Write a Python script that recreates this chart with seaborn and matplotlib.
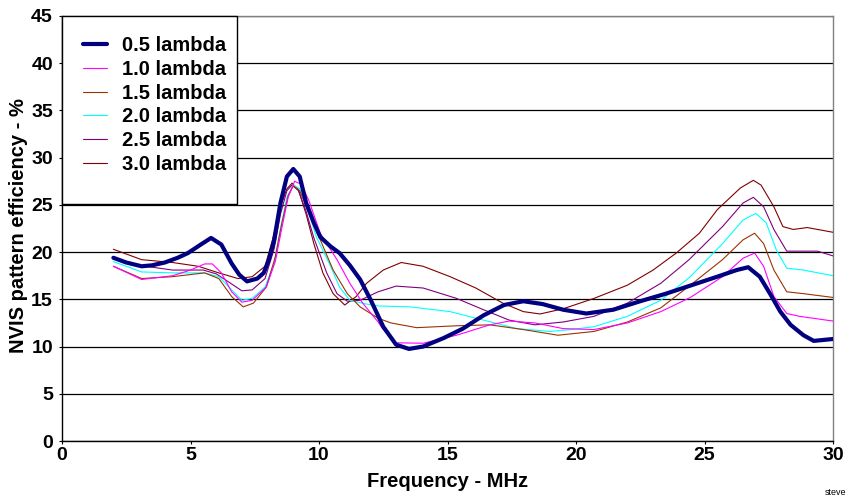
import matplotlib
matplotlib.use("Agg")
import matplotlib.pyplot as plt
import seaborn as sns
from matplotlib.patches import Rectangle

# values (frequency MHz, efficiency %)
f_05 = [2.0, 2.5, 3.1, 3.5, 4.0, 4.5, 4.9, 5.4, 5.8, 6.2, 6.6, 6.9, 7.2, 7.6, 7.85, 8.05,
        8.25, 8.5, 8.75, 9.0, 9.25, 9.5, 9.8, 10.05, 10.45, 10.8, 11.2, 11.6, 12.0, 12.5,
        13.0, 13.5, 14.05, 14.85, 15.6, 16.4, 17.2, 17.95, 18.7, 19.5, 20.4, 21.45, 22.5,
        23.5, 24.5, 25.5, 26.25, 26.7, 27.15, 27.55, 27.95, 28.35, 28.85, 29.25, 30.0]
v_05 = [19.4, 18.9, 18.5, 18.6, 18.9, 19.4, 19.9, 20.8, 21.5, 20.8, 18.8, 17.6, 16.9, 17.2, 17.8, 19.2,
        21.2, 25.2, 28.0, 28.8, 28.0, 25.2, 23.1, 21.6, 20.6, 19.9, 18.6, 17.1, 15.0, 12.1,
        10.2, 9.75, 10.0, 10.9, 11.9, 13.3, 14.4, 14.8, 14.5, 13.9, 13.5, 13.9, 14.8,
        15.6, 16.5, 17.4, 18.1, 18.4, 17.4, 15.6, 13.7, 12.3, 11.2, 10.6, 10.8]

f_10 = [2.0, 3.1, 4.3, 5.0, 5.55, 5.85, 6.2, 6.6, 7.0, 7.4, 7.95, 8.3, 8.55, 8.8, 9.05, 9.3,
        9.6, 10.05, 10.7, 11.2, 11.7, 12.3, 12.5, 13.0, 14.05, 15.35, 16.65, 17.4, 18.4, 19.5,
        20.7, 22.0, 23.3, 24.45, 25.7, 26.5, 26.95, 27.3, 27.7, 28.2, 28.7, 30.0]
v_10 = [18.5, 17.1, 17.5, 18.1, 18.75, 18.75, 17.8, 15.8, 14.7, 14.9, 16.3, 19.0, 22.5, 25.8, 27.5, 27.2,
        25.5, 22.0, 19.2, 16.7, 14.6, 12.6, 11.8, 10.4, 10.35, 11.2, 12.3, 12.7, 12.5, 11.9,
        11.8, 12.5, 13.7, 15.2, 17.4, 19.35, 19.9, 18.5, 15.3, 13.5, 13.2, 12.7]

f_15 = [2.0, 3.1, 4.3, 5.55, 6.1, 6.6, 7.05, 7.45, 7.95, 8.3, 8.55, 8.8, 9.0, 9.25, 9.55, 10.05,
        10.55, 11.1, 11.6, 12.3, 12.8, 13.8, 15.35, 16.65, 17.95, 19.3, 20.7, 22.0, 23.3, 24.45,
        25.7, 26.5, 26.95, 27.3, 27.7, 28.2, 28.85, 30.0]
v_15 = [18.5, 17.2, 17.4, 17.8, 17.2, 15.3, 14.2, 14.6, 16.3, 19.5, 23.0, 26.0, 27.0, 26.5, 24.5, 21.3,
        18.1, 15.6, 14.2, 13.0, 12.5, 12.0, 12.2, 12.3, 11.8, 11.2, 11.6, 12.6, 14.1, 16.5,
        19.2, 21.3, 22.0, 20.9, 18.1, 15.8, 15.6, 15.2]

f_20 = [2.0, 3.1, 4.3, 5.55, 6.1, 6.6, 7.0, 7.4, 7.9, 8.25, 8.5, 8.75, 9.0, 9.25, 9.5, 9.9,
        10.45, 10.8, 11.2, 11.85, 12.3, 13.55, 15.1, 16.4, 17.7, 19.0, 19.8, 20.7, 22.0, 23.3,
        24.45, 25.7, 26.5, 27.0, 27.4, 27.8, 28.2, 28.85, 30.0]
v_20 = [19.0, 17.9, 17.8, 17.8, 17.4, 16.0, 14.9, 15.1, 16.3, 18.8, 22.5, 25.8, 27.1, 26.7, 25.0, 21.6,
        18.5, 16.3, 14.9, 14.5, 14.3, 14.2, 13.7, 12.8, 11.9, 11.6, 11.8, 12.1, 13.2, 14.9,
        17.4, 20.9, 23.4, 24.1, 23.1, 20.2, 18.3, 18.1, 17.5]

f_25 = [2.0, 3.0, 4.3, 5.5, 6.0, 6.45, 7.0, 7.4, 7.9, 8.25, 8.5, 8.75, 8.95, 9.2, 9.5, 9.8,
        10.3, 10.7, 11.1, 11.6, 12.3, 13.0, 14.05, 15.35, 16.4, 17.4, 18.4, 19.5, 20.7, 22.0,
        23.3, 24.4, 25.7, 26.5, 26.9, 27.3, 27.7, 28.2, 29.4, 30.0]
v_25 = [19.4, 18.6, 18.1, 18.1, 17.7, 16.9, 15.9, 16.0, 17.2, 20.3, 24.0, 26.5, 27.1, 26.5, 24.3, 21.5,
        17.8, 15.6, 14.8, 14.9, 15.8, 16.4, 16.2, 15.1, 13.9, 12.8, 12.3, 12.6, 13.2, 14.6,
        16.7, 19.2, 22.7, 25.2, 25.8, 24.8, 22.4, 20.1, 20.1, 19.6]

f_30 = [2.0, 3.1, 4.3, 5.3, 6.1, 6.85, 7.4, 7.9, 8.2, 8.5, 8.75, 8.95, 9.2, 9.5, 9.8, 10.15,
        10.55, 11.0, 11.45, 11.85, 12.5, 13.2, 14.05, 15.1, 16.1, 17.15, 17.95, 18.6, 19.5, 20.7,
        22.0, 23.0, 23.9, 24.8, 25.5, 26.4, 26.9, 27.2, 27.7, 28.05, 28.45, 29.0, 30.0]
v_30 = [20.3, 19.2, 18.9, 18.5, 17.8, 17.2, 17.4, 18.5, 21.4, 24.8, 26.7, 27.3, 26.6, 24.0, 20.9, 17.8,
        15.6, 14.4, 15.3, 16.7, 18.1, 18.9, 18.5, 17.4, 16.2, 14.6, 13.7, 13.45, 14.0, 15.1,
        16.5, 18.1, 19.9, 22.0, 24.5, 26.8, 27.6, 27.1, 24.8, 22.7, 22.4, 22.6, 22.1]

labels = ["0.5 lambda", "1.0 lambda", "1.5 lambda", "2.0 lambda", "2.5 lambda", "3.0 lambda"]
colors = ["#000080", "#FF00FF", "#993300", "#00FFFF", "#800080", "#800000"]
widths = [3.0, 0.8, 0.8, 0.8, 0.8, 0.8]
series = [(f_05, v_05), (f_10, v_10), (f_15, v_15), (f_20, v_20), (f_25, v_25), (f_30, v_30)]

sns.set_style("white")
plt.rcParams["font.family"] = ["Liberation Sans", "DejaVu Sans"]
plt.rcParams["text.color"] = "black"
plt.rcParams["axes.labelcolor"] = "black"

fig = plt.figure(figsize=(8.48, 4.99), dpi=100)
ax = fig.add_axes([62 / 848, 58 / 499, 771 / 848, 425 / 499])

# thin lines first, thick 0.5 lambda on top
for i in [5, 4, 3, 2, 1, 0]:
    xs, ys = series[i]
    sns.lineplot(x=xs, y=ys, ax=ax, color=colors[i], linewidth=widths[i],
                 label=labels[i], sort=False, zorder=4 if i == 0 else 3)

ax.set_xlim(0, 30)
ax.set_ylim(0, 45)
ax.set_xticks(range(0, 31, 5))
ax.set_yticks(range(0, 46, 5))
ax.yaxis.grid(True, color="black", linewidth=0.9)
ax.xaxis.grid(False)
ax.set_axisbelow(True)

for s in ["left", "bottom"]:
    ax.spines[s].set_color("black")
    ax.spines[s].set_linewidth(1.0)
for s in ["top", "right"]:
    ax.spines[s].set_color("#808080")
    ax.spines[s].set_linewidth(1.0)

ax.tick_params(axis="both", which="major", labelsize=14, colors="black",
               direction="out", length=2.5, width=0.8, left=True, bottom=True)
ax.tick_params(axis="y", pad=4)
ax.tick_params(axis="x", pad=2)
for t in ax.get_xticklabels() + ax.get_yticklabels():
    t.set_fontweight("bold")

ax.set_xlabel("Frequency - MHz", fontsize=14.5, fontweight="bold", color="black")
ax.set_ylabel("NVIS pattern efficiency - %", fontsize=14.5, fontweight="bold", color="black")
ax.xaxis.set_label_coords(0.5, -0.073)
ax.yaxis.set_label_coords(-0.044, 0.508)

# legend box in the top left corner
ax.add_patch(Rectangle((0, 0.558), 0.227, 0.442, transform=ax.transAxes,
                       facecolor="white", edgecolor="black", linewidth=1.0,
                       zorder=2.6, clip_on=False))
handles, labs = ax.get_legend_handles_labels()
order = [labs.index(l) for l in labels]
leg = ax.legend([handles[k] for k in order], [labs[k] for k in order],
                loc="upper left", bbox_to_anchor=(0.027, 0.952), frameon=False,
                borderaxespad=0, borderpad=0, handlelength=1.2, handletextpad=0.75,
                labelspacing=0.23, prop={"size": 14.5, "weight": "bold"})
for txt in leg.get_texts():
    txt.set_color("black")
leg.set_zorder(6)

fig.text(846 / 848, 2 / 499, "steve", ha="right", va="bottom", fontsize=6.5, color="black")

plt.savefig("out.png", dpi=100)
plt.close()
